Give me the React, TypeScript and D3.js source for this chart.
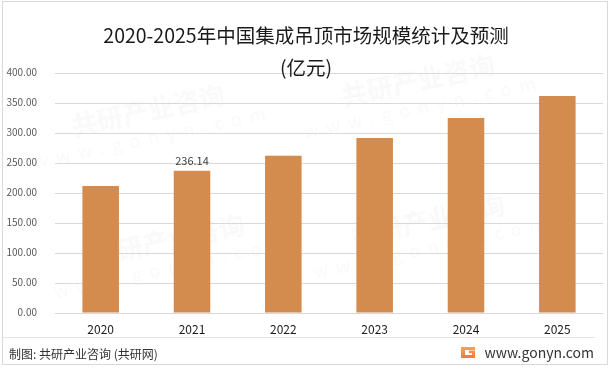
import React, { useEffect, useRef } from 'react';
import * as d3 from 'd3';

const years = ['2020', '2021', '2022', '2023', '2024', '2025'];
const values = [210.8, 236.14, 261.3, 290.8, 324.2, 360.8];
const yTicks = [0, 50, 100, 150, 200, 250, 300, 350, 400];
const labelledYear = '2021';

const W = 613;
const H = 369;

const App = () => {
  const svgRef = useRef<SVGSVGElement>(null);

  useEffect(() => {
    const svg = d3.select(svgRef.current);
    svg.selectAll('*').remove();

    const font = '"Microsoft YaHei", "Noto Sans CJK SC", "Noto Sans", sans-serif';

    svg.append('rect')
      .attr('x', 0).attr('y', 0).attr('width', W).attr('height', H)
      .attr('fill', '#fff');

    // faint watermarks
    const wm = svg.append('g').attr('fill', '#000').attr('opacity', 0.025)
      .attr('font-family', font).attr('font-weight', 'bold');
    [[150, 120], [420, 90], [170, 250], [430, 230]]
      .forEach(([x, y]) => {
        const g = wm.append('g').attr('transform', `translate(${x},${y}) rotate(-12)`);
        g.append('text').attr('text-anchor', 'middle').attr('font-size', 26).text('共研产业咨询');
        g.append('text').attr('text-anchor', 'middle').attr('y', 24).attr('font-size', 18)
          .attr('font-weight', 'normal').attr('letter-spacing', 8).text('www.gonyn.com');
      });

    // outer border
    svg.append('rect')
      .attr('x', 2.5).attr('y', 1.5).attr('width', 605).attr('height', 363)
      .attr('fill', 'none').attr('stroke', '#d9d9d9');

    const x = d3.scaleBand().domain(years).range([55, 603])
      .paddingInner(0.6).paddingOuter(0.3);
    const y = d3.scaleLinear().domain([0, 400]).range([312.5, 72.5]);

    const grid = svg.append('g');
    grid.selectAll('line').data(yTicks).enter().append('line')
      .attr('x1', 55).attr('x2', 603)
      .attr('y1', d => Math.round(y(d)) + 0.5).attr('y2', d => Math.round(y(d)) + 0.5)
      .attr('stroke', '#d9d9d9').attr('stroke-width', 1);

    svg.append('g').selectAll('text').data(yTicks).enter().append('text')
      .attr('x', 37).attr('y', d => y(d)).attr('dy', '0.35em')
      .attr('text-anchor', 'end').attr('font-size', 10).attr('fill', '#595959')
      .attr('font-family', font)
      .text(d => d.toFixed(2));

    svg.append('g').selectAll('rect').data(values).enter().append('rect')
      .attr('x', (d, i) => x(years[i]) as number)
      .attr('width', x.bandwidth())
      .attr('y', d => y(d))
      .attr('height', d => y(0) - y(d))
      .attr('fill', '#d38c4d');

    svg.append('g').selectAll('text').data(years).enter().append('text')
      .attr('x', d => (x(d) as number) + x.bandwidth() / 2)
      .attr('y', 334)
      .attr('text-anchor', 'middle').attr('font-size', 12).attr('fill', '#1a1a1a')
      .attr('font-family', font)
      .text(d => d);

    const li = years.indexOf(labelledYear);
    svg.append('text')
      .attr('x', (x(labelledYear) as number) + x.bandwidth() / 2)
      .attr('y', y(values[li]) - 6)
      .attr('text-anchor', 'middle').attr('font-size', 11).attr('fill', '#404040')
      .attr('font-family', font)
      .text(values[li].toFixed(2));

    svg.append('text')
      .attr('x', 306).attr('y', 43).attr('text-anchor', 'middle')
      .attr('font-size', 19.5).attr('fill', '#1a1a1a').attr('font-family', font)
      .text('2020-2025年中国集成吊顶市场规模统计及预测');
    svg.append('text')
      .attr('x', 306).attr('y', 75).attr('text-anchor', 'middle')
      .attr('font-size', 19.5).attr('fill', '#1a1a1a').attr('font-family', font)
      .text('(亿元)');

    // footer
    svg.append('line')
      .attr('x1', 3).attr('x2', 595).attr('y1', 337.5).attr('y2', 337.5)
      .attr('stroke', '#e3e3e3');
    svg.append('text')
      .attr('x', 9).attr('y', 359).attr('font-size', 12).attr('fill', '#333')
      .attr('font-family', font)
      .text('制图: 共研产业咨询 (共研网)');

    const defs = svg.append('defs');
    const grad = defs.append('linearGradient').attr('id', 'logoGrad')
      .attr('x1', 0).attr('y1', 0).attr('x2', 0).attr('y2', 1);
    grad.append('stop').attr('offset', '0%').attr('stop-color', '#f5a25a');
    grad.append('stop').attr('offset', '100%').attr('stop-color', '#f07a3a');
    svg.append('path')
      .attr('d', 'M461,347 h14 v3 h-10 v5 h7 v-2 h-3 v-2.5 h6 v7.5 h-14 z')
      .attr('fill', 'url(#logoGrad)');

    svg.append('text')
      .attr('x', 594).attr('y', 358).attr('text-anchor', 'end')
      .attr('font-size', 14).attr('fill', '#333').attr('font-family', font)
      .text('www.gonyn.com');
  }, []);

  return <svg ref={svgRef} width={W} height={H} style={{ display: 'block', position: 'absolute', left: 0, top: 0 }} />;
};

export default App;
